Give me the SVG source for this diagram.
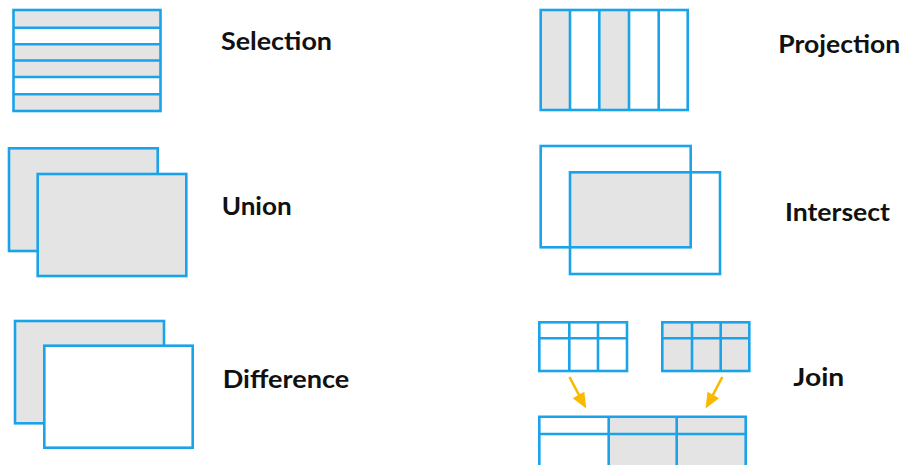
<svg xmlns="http://www.w3.org/2000/svg" width="906" height="465" viewBox="0 0 906 465">
<defs>
<style>
.b{stroke:#1aa3e8;stroke-width:2.6;fill:none}
.g{fill:#e4e4e4}
.w{fill:#ffffff}
.t{font-family:Lato,"Noto Sans","Liberation Sans",sans-serif;font-weight:bold;font-size:24.5px;fill:#111}
.a{stroke:#f9b900;stroke-width:2.6;fill:none}
.ah{fill:#f9b900}
</style>
</defs>
<rect width="906" height="465" fill="#ffffff"/>
<g id="selection">
<rect class="g" x="13.5" y="10" width="147" height="101"/>
<rect class="w" x="13.5" y="27.7" width="147" height="16.6"/>
<rect class="w" x="13.5" y="77" width="147" height="17.3"/>
<rect class="b" x="13.5" y="10" width="147" height="101"/>
<path class="b" d="M13.5 27.7H160.5M13.5 44.3H160.5M13.5 60.5H160.5M13.5 77H160.5M13.5 94.3H160.5"/>
<text class="t" x="221" y="49.5" textLength="111" lengthAdjust="spacingAndGlyphs">Selection</text>
</g>
<g id="projection">
<rect class="w" x="540.7" y="10" width="147" height="100"/>
<rect class="g" x="540.7" y="10" width="29.3" height="100"/>
<rect class="g" x="599.3" y="10" width="29.7" height="100"/>
<rect class="b" x="540.7" y="10" width="147" height="100"/>
<path class="b" d="M570 10V110M599.3 10V110M629 10V110M658.7 10V110"/>
<text class="t" x="778.3" y="53.3" textLength="122" lengthAdjust="spacingAndGlyphs">Projection</text>
</g>
<g id="union">
<rect class="b" x="9" y="148.3" width="148.7" height="102.7" style="fill:#e4e4e4"/>
<rect class="b" x="37.7" y="174" width="148.6" height="102" style="fill:#e4e4e4"/>
<text class="t" x="221.7" y="215" textLength="70" lengthAdjust="spacingAndGlyphs">Union</text>
</g>
<g id="intersect">
<rect class="g" x="570" y="172.3" width="120.7" height="75"/>
<rect class="b" x="570" y="172.3" width="150" height="101.7"/>
<rect class="b" x="540.7" y="146" width="150" height="101.3"/>
<text class="t" x="785" y="221" textLength="105" lengthAdjust="spacingAndGlyphs">Intersect</text>
</g>
<g id="difference">
<rect class="b" x="15" y="321" width="149" height="102.3" style="fill:#e4e4e4"/>
<rect class="b" x="44.3" y="345.7" width="148.4" height="102" style="fill:#ffffff"/>
<text class="t" x="222.7" y="388.3" textLength="126.6" lengthAdjust="spacingAndGlyphs">Difference</text>
</g>
<g id="join">
<rect class="b" x="539.3" y="322.3" width="87.7" height="48.7" style="fill:#ffffff"/>
<path class="b" d="M539.3 338.3H627M569.3 322.3V371M598 322.3V371"/>
<rect class="b" x="662.3" y="322.3" width="87" height="48.7" style="fill:#e4e4e4"/>
<path class="b" d="M662.3 338.3H749.3M692 322.3V371M720.7 322.3V371"/>
<rect class="g" x="608.7" y="416.7" width="137" height="60"/>
<path class="b" d="M539.3 470V416.7H745.7V470M539.3 434H745.7M608.7 416.7V470M676.7 416.7V470"/>
<text class="t" x="793.3" y="386" textLength="51" lengthAdjust="spacingAndGlyphs">Join</text>
</g>
<g id="connectors">
<path class="a" d="M569.5 377L579.5 396"/>
<polygon class="ah" points="572.7,398.3 586.3,408.5 584.3,391.7"/>
<path class="a" d="M722.3 377L712.3 396"/>
<polygon class="ah" points="719.1,398.3 705.5,408.5 707.5,391.7"/>
</g>
</svg>
